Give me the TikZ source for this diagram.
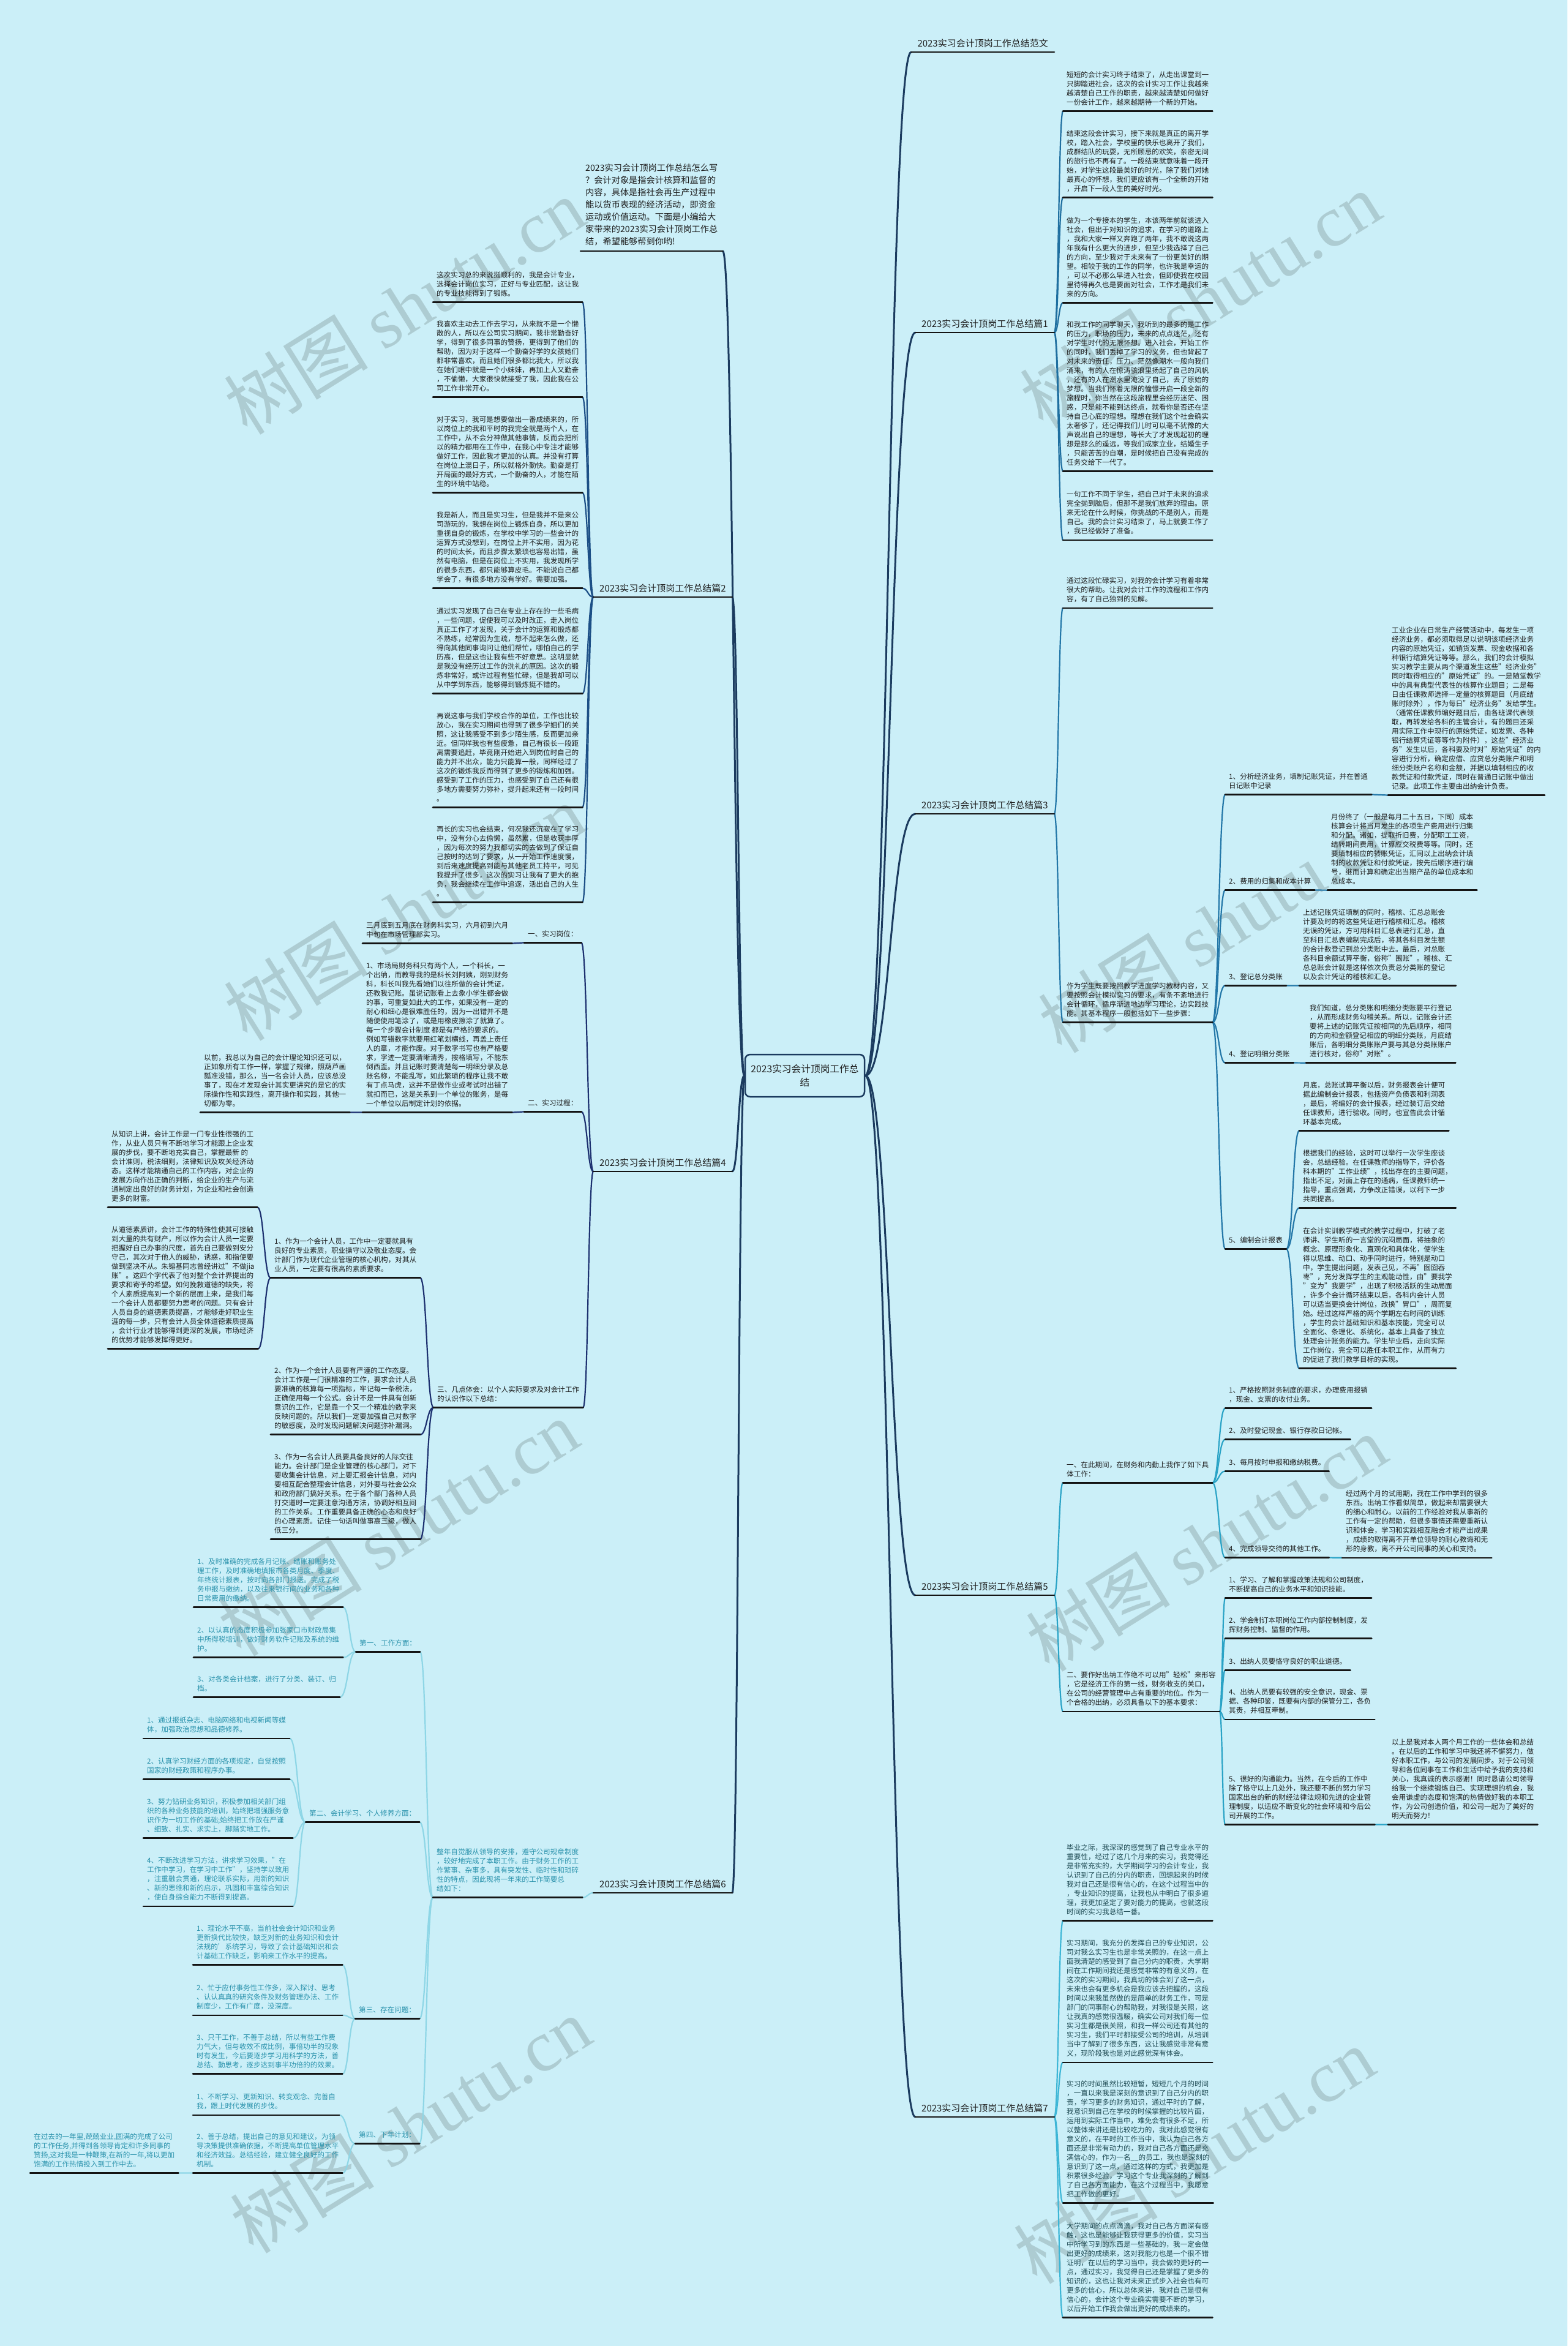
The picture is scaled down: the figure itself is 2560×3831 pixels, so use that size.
\documentclass[tikz,border=0pt]{standalone}
\usepackage{fontspec}
\setmainfont{Noto Sans CJK SC}
\newfontfamily\wmfont{Liberation Serif}
\usetikzlibrary{calc}
\definecolor{bg}{HTML}{CBEFF8}
\definecolor{txt}{HTML}{1E1E1E}
\definecolor{mainc}{HTML}{1B3B5F}
\definecolor{cA}{HTML}{1F6FA0}
\definecolor{cB}{HTML}{1C4F86}
\definecolor{cC}{HTML}{2377A8}
\definecolor{cD}{HTML}{1D3170}
\definecolor{cE}{HTML}{2AA3C6}
\definecolor{cF}{HTML}{8ED6E6}
\definecolor{cG}{HTML}{3DB6D6}
\definecolor{tF}{HTML}{2A92AC}
\definecolor{tG}{HTML}{1D4952}
\definecolor{wm}{HTML}{ADCCD2}
\newcommand{\mmR}[3]{\draw[#3] let \p1=(#1.south east), \p2=(#2.south west) in (\p1) .. controls ({(\x1+\x2)/2},\y1) and ({(\x1+\x2)/2},\y2) .. (\p2);}
\newcommand{\mmL}[3]{\draw[#3] let \p1=(#1.south west), \p2=(#2.south east) in (\p1) .. controls ({(\x1+\x2)/2},\y1) and ({(\x1+\x2)/2},\y2) .. (\p2);}
\newcommand{\rootR}[1]{\draw[mainline] let \p1=(root.east), \p2=(#1.south west) in (\p1) .. controls ({(\x1+\x2)/2},\y1) and ({(\x1+\x2)/2},\y2) .. (\p2);}
\newcommand{\rootL}[1]{\draw[mainline] let \p1=(root.west), \p2=(#1.south east) in (\p1) .. controls ({(\x1+\x2)/2},\y1) and ({(\x1+\x2)/2},\y2) .. (\p2);}
\newcommand{\mypara}[5][]{\node[para,#1] (#2) at (#3-6,#4-13.7) {#5};}
\begin{document}
\begin{tikzpicture}[x=1pt,y=-1pt,line cap=round,
 para/.style={anchor=north west, align=left, inner xsep=6pt, inner ysep=8.5pt, font=\fontsize{11.6}{15}\selectfont, text=txt},
 lab/.style={anchor=south east, inner xsep=10pt, inner ysep=7pt, font=\fontsize{15}{18}\selectfont, text=txt},
 uline/.style={line width=2.6pt, draw=black!92},
 conn/.style={line width=2.2pt},
 mainline/.style={line width=3pt, draw=mainc},
 wmark/.style={rotate=32, text=wm, font=\fontsize{118}{118}\selectfont}]
\useasboundingbox (0,0) rectangle (2560,3831);
\fill[bg] (0,0) rectangle (2560,3831);
% watermarks
\foreach \wx/\wy [count=\i] in {660/500,1960/490,660/1490,1990/1510,650/2495,1970/2520,670/3470,1950/3520}
  \node[wmark] (wm\i) at (\wx,\wy) {树图 {\wmfont shutu.cn}};
% root
\node[draw=mainc, line width=2.5pt, rounded corners=8pt, minimum width=195pt, minimum height=69pt, align=center, font=\fontsize{15.7}{22}\selectfont, text=txt] (root) at (1314.5,1756.5) {2023实习会计顶岗工作总\\结};
% labels
\node[lab] (fw) at (1722,85) {2023实习会计顶岗工作总结范文};
\node[lab] (p1) at (1722,543) {2023实习会计顶岗工作总结篇1};
\node[lab] (p3) at (1722,1329) {2023实习会计顶岗工作总结篇3};
\node[lab] (p5) at (1722,2605) {2023实习会计顶岗工作总结篇5};
\node[lab] (p7) at (1722,3457) {2023实习会计顶岗工作总结篇7};
\node[lab] (p2) at (1196,975) {2023实习会计顶岗工作总结篇2};
\node[lab] (p4) at (1196,1913) {2023实习会计顶岗工作总结篇4};
\node[lab] (p6) at (1196,3091) {2023实习会计顶岗工作总结篇6};
\node[para, font=\fontsize{14.2}{20}\selectfont, inner xsep=8pt] (intro) at (948,259) {2023实习会计顶岗工作总结怎么写\\？会计对象是指会计核算和监督的\\内容，具体是指社会再生产过程中\\能以货币表现的经济活动，即资金\\运动或价值运动。下面是小编给大\\家带来的2023实习会计顶岗工作总\\结，希望能够帮到你哟!};
% ===== 篇1 =====
\mypara{P1a}{1742}{122}{短短的会计实习终于结束了，从走出课堂到一\\只脚踏进社会，这次的会计实习工作让我越来\\越清楚自己工作的职责，越来越清楚如何做好\\一份会计工作，越来越期待一个新的开始。}
\mypara{P1b}{1742}{218}{结束这段会计实习，接下来就是真正的离开学\\校，踏入社会，学校里的快乐也离开了我们，\\成群结队的玩耍，无所顾忌的欢笑，亲密无间\\的旅行也不再有了。一段结束就意味着一段开\\始，对学生这段最美好的时光，除了我们对她\\最真心的怀想，我们更应该有一个全新的开始\\，开启下一段人生的美好时光。}
\mypara{P1c}{1742}{360}{做为一个专接本的学生，本该两年前就该进入\\社会，但出于对知识的追求，在学习的道路上\\，我和大家一样又奔跑了两年，我不敢说这两\\年我有什么更大的进步，但至少我选择了自己\\的方向，至少我对于未来有了一份更美好的期\\望。相较于我的工作的同学，也许我是幸运的\\，可以不必那么早进入社会，但即使我在校园\\里待得再久也是要面对社会，工作才是我们未\\来的方向。}
\mypara{P1d}{1742}{530}{和我工作的同学聊天，我听到的最多的是工作\\的压力，职场的压力，未来的点点迷茫，还有\\对学生时代的无限怀想。进入社会，开始工作\\的同时，我们丢掉了学习的义务，但也背起了\\对未来的责任，压力、茫然像潮水一般向我们\\涌来，有的人在惊涛骇浪里扬起了自己的风帆\\，还有的人在潮水里淹没了自己，丢了原始的\\梦想。当我们怀着无限的憧憬开启一段全新的\\旅程时，你当然在这段旅程里会经历迷茫、困\\惑，只是能不能到达终点，就看你是否还在坚\\持自己心底的理想。理想在我们这个社会确实\\太奢侈了，还记得我们儿时可以毫不犹豫的大\\声说出自己的理想，等长大了才发现起初的理\\想是那么的遥远，等我们成家立业，结婚生子\\，只能苦苦的自嘲，是时候把自己没有完成的\\任务交给下一代了。}
\mypara{P1e}{1742}{807}{一句工作不同于学生，把自己对于未来的追求\\完全抛到脑后，但那不是我们放弃的理由。原\\来无论在什么时候，你挑战的不是别人，而是\\自己。我的会计实习结束了，马上就要工作了\\，我已经做好了准备。}
% ===== 篇3 =====
\mypara{P3a}{1742}{948}{通过这段忙碌实习，对我的会计学习有着非常\\很大的帮助。让我对会计工作的流程和工作内\\容，有了自己独到的见解。}
\mypara{P3b}{1742}{1610}{作为学生既要按照教学进度学习教材内容，又\\要按照会计模拟实习的要求，有条不紊地进行\\会计循环，循序渐进地边学习理论，边实践技\\能。其基本程序一般包括如下一些步骤：}
\mypara{S1}{2007}{1268}{1、分析经济业务，填制记账凭证，并在普通\\日记账中记录}
\mypara{S1c}{2273}{1029}{工业企业在日常生产经营活动中，每发生一项\\经济业务，都必须取得足以说明该项经济业务\\内容的原始凭证，如销货发票、现金收据和各\\种银行结算凭证等等。那么，我们的会计模拟\\实习教学主要从两个渠道发生这些"经济业务"\\同时取得相应的"原始凭证"的。一是随堂教学\\中的具有典型代表性的核算作业题目；二是每\\日由任课教师选择一定量的核算题目（月底结\\账时除外），作为每日"经济业务"发给学生。\\（通常任课教师编好题目后，由各班课代表领\\取，再转发给各科的主管会计，有的题目还采\\用实际工作中现行的原始凭证，如发票、各种\\银行结算凭证等等作为附件），这些"经济业\\务"发生以后，各科要及时对"原始凭证"的内\\容进行分析，确定应借、应贷总分类账户和明\\细分类账户名称和金额，并据以填制相应的收\\款凭证和付款凭证，同时在普通日记账中做出\\记录。此项工作主要由出纳会计负责。}
\mypara{S2}{2007}{1439}{2、费用的归集和成本计算}
\mypara{S2c}{2174}{1334}{月份终了（一般是每月二十五日，下同）成本\\核算会计将当月发生的各项生产费用进行归集\\和分配。诸如，提取折旧费，分配职工工资，\\结转期间费用，计算应交税费等等。同时，还\\要填制相应的转账凭证，汇同以上出纳会计填\\制的收款凭证和付款凭证，按先后顺序进行编\\号，继而计算和确定出当期产品的单位成本和\\总成本。}
\mypara{S3}{2007}{1595}{3、登记总分类账}
\mypara{S3c}{2128}{1490}{上述记账凭证填制的同时，稽核、汇总总账会\\计要及时的将这些凭证进行稽核和汇总。稽核\\无误的凭证，方可用科目汇总表进行汇总，直\\至科目汇总表编制完成后，将其各科目发生额\\的合计数登记到总分类账中去。最后，对总账\\各科目余额试算平衡，俗称"围账"。稽核、汇\\总总账会计就是这样依次负责总分类账的登记\\以及会计凭证的稽核和汇总。}
\mypara{S4}{2007}{1721}{4、登记明细分类账}
\mypara{S4c}{2139}{1646}{我们知道，总分类账和明细分类账要平行登记\\，从而形成财务勾稽关系。所以，记账会计还\\要将上述的记账凭证按相同的先后顺序，相同\\的方向和金额登记相应的明细分类账，月底结\\账后，各明细分类账账户要与其总分类账账户\\进行核对，俗称"对账"。}
\mypara{S5}{2007}{2025}{5、编制会计报表}
\mypara{S5a}{2128}{1772}{月底，总账试算平衡以后，财务报表会计便可\\据此编制会计报表，包括资产负债表和利润表\\，最后，将编好的会计报表，经过装订后交给\\任课教师，进行验收。同时，也宣告此会计循\\环基本完成。}
\mypara{S5b}{2128}{1883}{根据我们的经验，这时可以举行一次学生座谈\\会，总结经验。在任课教师的指导下，评价各\\科本期的"工作业绩"，找出存在的主要问题，\\指出不足，对面上存在的通病，任课教师统一\\指导，重点强调，力争改正错误，以利下一步\\共同提高。}
\mypara{S5c}{2128}{2010}{在会计实训教学模式的教学过程中，打破了老\\师讲、学生听的一言堂的沉闷局面，将抽象的\\概念、原理形象化、直观化和具体化，使学生\\得以思维、动口、动手同时进行，特别是动口\\中，学生提出问题，发表己见，不再"囫囵吞\\枣"，充分发挥学生的主观能动性，由"要我学\\"变为"我要学"，出现了积极活跃的生动局面\\，许多个会计循环结束以后，各科内会计人员\\可以适当更换会计岗位，改换"胃口"，周而复\\始。经过这样严格的两个学期左右时间的训练\\，学生的会计基础知识和基本技能，完全可以\\全面化、条理化、系统化，基本上具备了独立\\处理会计账务的能力。学生毕业后，走向实际\\工作岗位，完全可以胜任本职工作，从而有力\\的促进了我们教学目标的实现。}
% ===== 篇5 =====
\mypara{Q1}{1742}{2392}{一、在此期间，在财务和内勤上我作了如下具\\体工作：}
\mypara{Q1a}{2007}{2270}{1、严格按照财务制度的要求，办理费用报销\\，现金、支票的收付业务。}
\mypara{Q1b}{2007}{2336}{2、及时登记现金、银行存款日记帐。}
\mypara{Q1c}{2007}{2388}{3、每月按时申报和缴纳税费。}
\mypara{Q1d}{2007}{2529}{4、完成领导交待的其他工作。}
\mypara{Q1dc}{2198}{2439}{经过两个月的试用期，我在工作中学到的很多\\东西。出纳工作看似简单，做起来却需要很大\\的细心和耐心。以前的工作经验对我从事新的\\工作有一定的帮助，但很多事情还需要重新认\\识和体会，学习和实践相互融合才能产出成果\\，成绩的取得离不开单位领导的耐心教诲和无\\形的身教，离不开公司同事的关心和支持。}
\mypara{Q2}{1742}{2735}{二、要作好出纳工作绝不可以用"轻松"来形容\\，它是经济工作的第一线，财务收支的关口，\\在公司的经营管理中占有重要的地位。作为一\\个合格的出纳，必须具备以下的基本要求：}
\mypara{Q2a}{2007}{2580}{1、学习、了解和掌握政策法规和公司制度，\\不断提高自己的业务水平和知识技能。}
\mypara{Q2b}{2007}{2646}{2、学会制订本职岗位工作内部控制制度，发\\挥财务控制、监督的作用。}
\mypara{Q2c}{2007}{2713}{3、出纳人员要恪守良好的职业道德。}
\mypara{Q2d}{2007}{2763}{4、出纳人员要有较强的安全意识，现金、票\\据、各种印鉴，既要有内部的保管分工，各负\\其责，并相互牵制。}
\mypara{Q2e}{2007}{2905}{5、很好的沟通能力。当然，在今后的工作中\\除了恪守以上几处外，我还要不断的努力学习\\国家出台的新的财经法律法规和先进的企业管\\理制度，以适应不断变化的社会环境和今后公\\司开展的工作。}
\mypara{Q2ec}{2273}{2845}{以上是我对本人两个月工作的一些体会和总结\\。在以后的工作和学习中我还将不懈努力，做\\好本职工作，与公司的发展同步。对于公司领\\导和各位同事在工作和生活中给予我的支持和\\关心，我真诚的表示感谢！同时恳请公司领导\\给我一个继续锻炼自己、实现理想的机会，我\\会用谦虚的态度和饱满的热情做好我的本职工\\作，为公司创造价值，和公司一起为了美好的\\明天而努力！}
% ===== 篇7 =====
\mypara[text=tG]{R1}{1742}{3017}{毕业之际，我深深的感觉到了自己专业水平的\\重要性，经过了这几个月来的实习，我觉得还\\是非常充实的，大学期间学习的会计专业，我\\认识到了自己的分内的职责，回想起来的时候\\我对自己还是很有信心的，在这个过程当中的\\，专业知识的提高，让我也从中明白了很多道\\理，我更加坚定了要对能力的提高，也就这段\\时间的实习我总结一番。}
\mypara[text=tG]{R2}{1742}{3173}{实习期间，我充分的发挥自己的专业知识，公\\司对我么实习生也是非常关照的，在这一点上\\面我清楚的感受到了自己分内的职责，大学期\\间在工作期间我还是感觉非常的有意义的，在\\这次的实习期间，我真切的体会到了这一点，\\未来也会有更多机会是我应该去把握的，这段\\时间以来我虽然做的是简单的财务工作，可是\\部门的同事耐心的帮助我，对我很是关照，这\\让我真的感觉很温暖，确实公司对我们每一位\\实习生都是很关照，和我一样公司还有其他的\\实习生，我们平时都接受公司的培训，从培训\\当中了解到了很多东西，这让我感觉非常有意\\义，现阶段我也是对此感觉深有体会。}
\mypara[text=tG]{R3}{1742}{3403}{实习的时间虽然比较短暂，短短几个月的时间\\，一直以来我是深刻的意识到了自己分内的职\\责，学习更多的财务知识，通过平时的了解，\\我意识到自己在学校的时候掌握的比较片面，\\运用到实际工作当中，难免会有很多不足，所\\以整体来讲还是比较吃力的，我对此感觉很有\\意义的，在平时的工作当中，我认为自己各方\\面还是非常有动力的，我对自己各方面还是充\\满信心的，作为一名\_\_的员工，我也是深刻的\\意识到了这一点，通过这样的方式，我更加是\\积累很多经验，学习这个专业我深刻的了解到\\了自己各方面能力，在这个过程当中，我愿意\\把工作做的更好。}
\mypara[text=tG]{R4}{1742}{3635}{大学期间的点点滴滴，我对自己各方面深有感\\触，这也是能够让我获得更多的价值，实习当\\中所学习到的东西是一些基础的，我一定会做\\出更好的成绩来，这对我能力也是一个很不错\\证明，在以后的学习当中，我会做的更好的一\\点，通过实习，我觉得自己还是掌握了更多的\\知识的，这也让我对未来正式步入社会也有可\\更多的信心，所以总体来讲，我对自己是很有\\信心的，会计这个专业确实需要不断的学习，\\以后开始工作我会做出更好的成绩来的。}
% ===== 篇2 =====
\mypara{L2a}{713}{449}{这次实习总的来说挺顺利的，我是会计专业，\\选择会计岗位实习，正好与专业匹配，这让我\\的专业技能得到了锻炼。}
\mypara{L2b}{713}{529}{我喜欢主动去工作去学习，从来就不是一个懒\\散的人，所以在公司实习期间，我非常勤奋好\\学，得到了很多同事的赞扬，更得到了他们的\\帮助，因为对于这样一个勤奋好学的女孩她们\\都非常喜欢，而且她们很多都比我大，所以我\\在她们眼中就是一个小妹妹，再加上人又勤奋\\，不偷懒，大家很快就接受了我，因此我在公\\司工作非常开心。}
\mypara{L2c}{713}{685}{对于实习，我可是想要做出一番成绩来的，所\\以岗位上的我和平时的我完全就是两个人，在\\工作中，从不会分神做其他事情，反而会把所\\以的精力都用在工作中，在我心中专注才能够\\做好工作，因此我才更加的认真。并没有打算\\在岗位上混日子，所以就格外勤快。勤奋是打\\开局面的最好方式，一个勤奋的人，才能在陌\\生的环境中站稳。}
\mypara{L2d}{713}{841}{我是新人，而且是实习生，但是我并不是来公\\司游玩的，我想在岗位上锻炼自身，所以更加\\重视自身的锻炼，在学校中学习的一些会计的\\运算方式没想到，在岗位上并不实用，因为花\\的时间太长，而且步骤太繁琐也容易出错，虽\\然有电脑，但是在岗位上不实用，我发现所学\\的很多东西，都只能够算皮毛。不能说自己都\\学会了，有很多地方没有学好。需要加强。}
\mypara{L2e}{713}{998}{通过实习发现了自己在专业上存在的一些毛病\\，一些问题，促使我可以及时改正，走入岗位\\真正工作了才发现，关于会计的运算和锻炼都\\不熟练，经常因为生疏，想不起来怎么做，还\\得向其他同事询问让他们帮忙，哪怕自己的学\\历高，但是这也让我有些不好意思。这明显就\\是我没有经历过工作的洗礼的原因。这次的锻\\炼非常好，或许过程有些忙碌，但是我却可以\\从中学到东西，能够得到锻炼挺不错的。}
\mypara{L2f}{713}{1169}{再说这事与我们学校合作的单位，工作也比较\\放心，我在实习期间也得到了很多学姐们的关\\照，这让我感受不到多少陌生感，反而更加亲\\近。但同样我也有些疲惫，自己有很长一段距\\离需要追赶，毕竟刚开始进入到岗位时自己的\\能力并不出众，能力只能算一般，同样经过了\\这次的锻炼我反而得到了更多的锻炼和加强。\\感受到了工作的压力，也感受到了自己还有很\\多地方需要努力弥补，提升起来还有一段时间\\。}
\mypara{L2g}{713}{1354}{再长的实习也会结束，何况我还沉寂在了学习\\中，没有分心去偷懒，虽然累，但是收获丰厚\\，因为每次的努力我都切实的去做到了保证自\\己按时的达到了要求，从一开始工作速度慢，\\到后来速度提高到能与其他老员工持平，可见\\我提升了很多，这次的实习让我有了更大的抱\\负，我会继续在工作中追逐，活出自己的人生\\。}
% ===== 篇4 =====
\mypara{T1}{862}{1525}{一、实习岗位：}
\mypara{T1c}{598}{1511}{三月底到五月底在财务科实习，六月初到六月\\中旬在市场管理部实习。}
\mypara{T2}{862}{1801}{二、实习过程：}
\mypara{T2c}{598}{1577}{1、市场局财务科只有两个人，一个科长，一\\个出纳，而教导我的是科长刘阿姨，刚到财务\\科，科长叫我先看她们以往所做的会计凭证，\\还教我记账。虽说记账看上去象小学生都会做\\的事，可重复如此大的工作，如果没有一定的\\耐心和细心是很难胜任的，因为一出错并不是\\随便使用笔涂了，或是用橡皮擦涂了就算了。\\每一个步骤会计制度 都是有严格的要求的。\\例如写错数字就要用红笔划横线，再盖上责任\\人的章，才能作废。对于数字书写也有严格要\\求，字迹一定要清晰清秀，按格填写，不能东\\倒西歪。并且记账时要清楚每一明细分录及总\\账名称，不能乱写，如此繁琐的程序让我不敢\\有丁点马虎，这并不是做作业或考试时出错了\\就扣而已，这是关系到一个单位的账务，是每\\一个单位以后制定计划的依据。}
\mypara{T2cc}{333}{1727}{以前，我总以为自己的会计理论知识还可以，\\正如象所有工作一样，掌握了规律，照葫芦画\\瓢准没错，那么，当一名会计人员，应该总没\\事了，现在才发现会计其实更讲究的是它的实\\际操作性和实践性，离开操作和实践，其他一\\切都为零。}
\mypara{T3}{714}{2269}{三、几点体会：以个人实际要求及对会计工作\\的认识作以下总结：}
\mypara{T3a}{448}{2027}{1、作为一个会计人员，工作中一定要就具有\\良好的专业素质，职业操守以及敬业态度。会\\计部门作为现代企业管理的核心机构，对其从\\业人员，一定要有很高的素质要求。}
\mypara{T3a1}{182}{1852}{从知识上讲，会计工作是一门专业性很强的工\\作，从业人员只有不断地学习才能跟上企业发\\展的步伐，要不断地充实自己，掌握最新 的\\会计准则，税法细则，法律知识及攻关经济动\\态。这样才能精通自己的工作内容，对企业的\\发展方向作出正确的判断，给企业的生产与流\\通制定出良好的财务计划，为企业和社会创造\\更多的财富。}
\mypara{T3a2}{182}{2008}{从道德素质讲，会计工作的特殊性使其可接触\\到大量的共有财产，所以作为会计人员一定要\\把握好自己办事的尺度，首先自己要做到安分\\守己，其次对于他人的威胁，诱惑，和指使要\\做到坚决不从。朱镕基同志曾经讲过"不做jia\\账"。这四个字代表了他对整个会计界提出的\\要求和寄予的希望。如何挽救道德的缺失，将\\个人素质提高到一个新的层面上来，是我们每\\一个会计人员都要努力思考的问题。只有会计\\人员自身的道德素质提高，才能够走好职业生\\涯的每一步，只有会计人员全体道德素质提高\\，会计行业才能够得到更深的发展，市场经济\\的优势才能够发挥得更好。}
\mypara{T3b}{448}{2238}{2、作为一个会计人员要有严谨的工作态度。\\会计工作是一门很精准的工作，要求会计人员\\要准确的核算每一项指标，牢记每一条税法，\\正确使用每一个公式。会计不是一件具有创新\\意识的工作，它是靠一个又一个精准的数字来\\反映问题的。所以我们一定要加强自己对数字\\的敏感度，及时发现问题解决问题弥补漏洞。}
\mypara{T3c}{448}{2379}{3、作为一名会计人员要具备良好的人际交往\\能力。会计部门是企业管理的核心部门，对下\\要收集会计信息，对上要汇报会计信息，对内\\要相互配合整理会计信息，对外要与社会公众\\和政府部门搞好关系。在于各个部门各种人员\\打交道时一定要注意沟通方法，协调好相互间\\的工作关系。工作重要具备正确的心态和良好\\的心理素质。记住一句话叫做事高三级，做人\\低三分。}
% ===== 篇6 =====
\mypara[text=tF]{U0}{713}{3024}{整年自觉服从领导的安排，遵守公司规章制度\\，较好地完成了本职工作。由于财务工作的工\\作繁事、杂事多，具有突发性、临时性和琐碎\\性的特点，因此现将一年来的工作简要总\\结如下：}
\mypara[text=tF]{U1}{587}{2683}{第一、工作方面：}
\mypara[text=tF]{U1a}{322}{2550}{1、及时准确的完成各月记账、结账和账务处\\理工作，及时准确地填报市各类月度、季度、\\年终统计报表，按时向各部门报送。完成了税\\务申报与缴纳，以及往来银行间的业务和各种\\日常费用的缴纳。}
\mypara[text=tF]{U1b}{322}{2662}{2、以认真的态度积极参加张家口市财政局集\\中所得税培训，做好财务软件记账及系统的维\\护。}
\mypara[text=tF]{U1c}{322}{2742}{3、对各类会计档案，进行了分类、装订、归\\档。}
\mypara[text=tF]{U2}{505}{2961}{第二、会计学习、个人修养方面：}
\mypara[text=tF]{U2a}{240}{2809}{1、通过报纸杂志、电脑网络和电视新闻等媒\\体，加强政治思想和品德修养。}
\mypara[text=tF]{U2b}{240}{2876}{2、认真学习财经方面的各项规定，自觉按照\\国家的财经政策和程序办事。}
\mypara[text=tF]{U2c}{240}{2942}{3、努力钻研业务知识，积极参加相关部门组\\织的各种业务技能的培训，始终把增强服务意\\识作为一切工作的基础;始终把工作放在严谨\\、细致、扎实、求实上，脚踏实地工作。}
\mypara[text=tF]{U2d}{240}{3038}{4、不断改进学习方法，讲求学习效果，"在\\工作中学习，在学习中工作"，坚持学以致用\\，注重融会贯通，理论联系实际，用新的知识\\、新的思维和新的启示，巩固和丰富综合知识\\，使自身综合能力不断得到提高。}
\mypara[text=tF]{U3}{586}{3282}{第三、存在问题：}
\mypara[text=tF]{U3a}{321}{3149}{1、理论水平不高，当前社会会计知识和业务\\更新换代比较快，缺乏对新的业务知识和会计\\法规的'系统学习，导致了会计基础知识和会\\计基础工作缺乏，影响来工作水平的提高。}
\mypara[text=tF]{U3b}{321}{3246}{2、忙于应付事务性工作多，深入探讨、思考\\、认认真真的研究条件及财务管理办法、工作\\制度少，工作有广度，没深度。}
\mypara[text=tF]{U3c}{321}{3327}{3、只干工作，不善于总结，所以有些工作费\\力气大，但与收效不成比例，事倍功半的现象\\时有发生，今后要逐步学习用科学的方法，善\\总结、勤思考，逐步达到事半功倍的的效果。}
\mypara[text=tF]{U4}{586}{3486}{第四、下年计划：}
\mypara[text=tF]{U4a}{321}{3424}{1、不断学习、更新知识、转变观念、完善自\\我，跟上时代发展的步伐。}
\mypara[text=tF]{U4b}{321}{3489}{2、善于总结，提出自己的意见和建议，为领\\导决策提供准确依据，不断提高单位管理水平\\和经济效益。总结经验，建立健全良好的工作\\机制。}
\mypara[text=tF]{U4bc}{55}{3489}{在过去的一年里,兢兢业业,圆满的完成了公司\\的工作任务,并得到各领导肯定和许多同事的\\赞扬,这对我是一种鞭策,在新的一年,将以更加\\饱满的工作热情投入到工作中去。}
% ===== connectors =====
\foreach \nd in {fw,p1,p3,p5,p7} {\rootR{\nd}}
\foreach \nd in {intro,p2,p4,p6} {\rootL{\nd}}
\foreach \nd in {P1a,P1b,P1c,P1d,P1e} {\mmR{p1}{\nd}{conn,cA}}
\foreach \nd in {P3a,P3b} {\mmR{p3}{\nd}{conn,cC}}
\foreach \nd in {S1,S2,S3,S4,S5} {\mmR{P3b}{\nd}{conn,cC}}
\mmR{S1}{S1c}{conn,cC}
\mmR{S2}{S2c}{conn,cC}
\mmR{S3}{S3c}{conn,cC}
\mmR{S4}{S4c}{conn,cC}
\foreach \nd in {S5a,S5b,S5c} {\mmR{S5}{\nd}{conn,cC}}
\foreach \nd in {Q1,Q2} {\mmR{p5}{\nd}{conn,cE}}
\foreach \nd in {Q1a,Q1b,Q1c,Q1d} {\mmR{Q1}{\nd}{conn,cE}}
\mmR{Q1d}{Q1dc}{conn,cE}
\foreach \nd in {Q2a,Q2b,Q2c,Q2d,Q2e} {\mmR{Q2}{\nd}{conn,cE}}
\mmR{Q2e}{Q2ec}{conn,cE}
\foreach \nd in {R1,R2,R3,R4} {\mmR{p7}{\nd}{conn,cG}}
\foreach \nd in {L2a,L2b,L2c,L2d,L2e,L2f,L2g} {\mmL{p2}{\nd}{conn,cB}}
\foreach \nd in {T1,T2,T3} {\mmL{p4}{\nd}{conn,cD}}
\mmL{T1}{T1c}{conn,cD}
\mmL{T2}{T2c}{conn,cD}
\mmL{T2c}{T2cc}{conn,cD}
\foreach \nd in {T3a,T3b,T3c} {\mmL{T3}{\nd}{conn,cD}}
\foreach \nd in {T3a1,T3a2} {\mmL{T3a}{\nd}{conn,cD}}
\mmL{p6}{U0}{conn,cF}
\foreach \nd in {U1,U2,U3,U4} {\mmL{U0}{\nd}{conn,cF}}
\foreach \nd in {U1a,U1b,U1c} {\mmL{U1}{\nd}{conn,cF}}
\foreach \nd in {U2a,U2b,U2c,U2d} {\mmL{U2}{\nd}{conn,cF}}
\foreach \nd in {U3a,U3b,U3c} {\mmL{U3}{\nd}{conn,cF}}
\foreach \nd in {U4a,U4b} {\mmL{U4}{\nd}{conn,cF}}
\mmL{U4b}{U4bc}{conn,cF}
% underlines
\foreach \nd in {fw,p1,p3,p5,p7,p2,p4,p6,intro,P1a,P1b,P1c,P1d,P1e,P3a,P3b,S1,S1c,S2,S2c,S3,S3c,S4,S4c,S5,S5a,S5b,S5c,Q1,Q1a,Q1b,Q1c,Q1d,Q1dc,Q2,Q2a,Q2b,Q2c,Q2d,Q2e,Q2ec,R1,R2,R3,R4,L2a,L2b,L2c,L2d,L2e,L2f,L2g,T1,T1c,T2,T2c,T2cc,T3,T3a,T3a1,T3a2,T3b,T3c,U0,U1,U1a,U1b,U1c,U2,U2a,U2b,U2c,U2d,U3,U3a,U3b,U3c,U4,U4a,U4b,U4bc}
  {\draw[uline] (\nd.south west) -- (\nd.south east);}
\end{tikzpicture}
\end{document}
